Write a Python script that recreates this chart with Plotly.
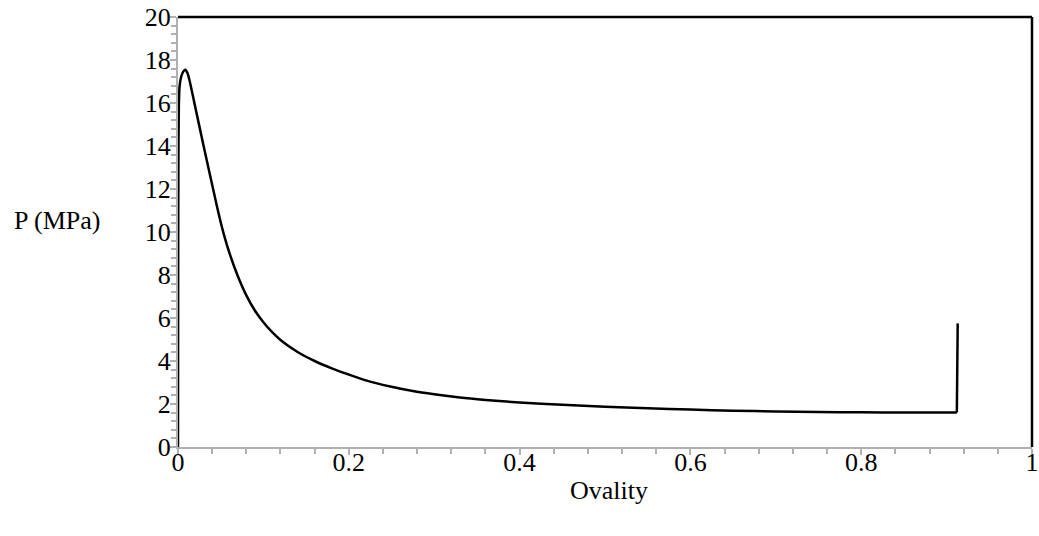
import plotly.graph_objects as go

# Data
ovality = [0.0, 0.0002, 0.0005, 0.0010, 0.0018, 0.0037, 0.0060, 0.0084, 0.0110, 0.0134,
           0.020, 0.030, 0.040, 0.045, 0.050, 0.055, 0.060, 0.070, 0.080, 0.090,
           0.100, 0.110, 0.120, 0.140, 0.160, 0.180, 0.200, 0.220, 0.250, 0.275,
           0.300, 0.330, 0.360, 0.400, 0.450, 0.500, 0.550, 0.600, 0.650, 0.700,
           0.750, 0.800, 0.850, 0.900, 0.912, 0.913]
pressure = [0.0, 8.0, 13.5, 15.9, 16.76, 17.22, 17.45, 17.55, 17.40, 17.07,
            15.85, 14.00, 12.20, 11.30, 10.45, 9.70, 9.05, 7.95, 7.05, 6.35,
            5.80, 5.35, 4.98, 4.42, 4.00, 3.66, 3.37, 3.10, 2.80, 2.60,
            2.45, 2.30, 2.19, 2.07, 1.96, 1.87, 1.80, 1.74, 1.69, 1.655,
            1.63, 1.615, 1.605, 1.60, 1.60, 5.75]

x_ticks = [0, 0.2, 0.4, 0.6, 0.8, 1]
x_tick_labels = ["0", "0.2", "0.4", "0.6", "0.8", "1"]
y_ticks = [0, 2, 4, 6, 8, 10, 12, 14, 16, 18, 20]

FONT = "Liberation Serif"
FS = 26
GRAY = "#b0b0b0"

fig = go.Figure()
# smooth curve up to the end of the plateau
fig.add_trace(go.Scatter(x=ovality[:-1], y=pressure[:-1], mode="lines",
                         line=dict(color="black", width=2.5, shape="spline", smoothing=0.6),
                         cliponaxis=False, showlegend=False))
# final vertical jump
fig.add_trace(go.Scatter(x=ovality[-2:], y=pressure[-2:], mode="lines",
                         line=dict(color="black", width=2.5),
                         cliponaxis=False, showlegend=False))

fig.update_layout(
    width=1039, height=536,
    margin=dict(l=178, r=7, t=17, b=89, autoexpand=False),
    paper_bgcolor="white", plot_bgcolor="white",
    font=dict(family=FONT, size=FS, color="black"),
    shapes=[
        dict(type="line", xref="paper", yref="paper", x0=0, x1=1, y0=1, y1=1,
             line=dict(color="black", width=2.5), layer="below"),
        dict(type="line", xref="paper", yref="paper", x0=1, x1=1, y0=0, y1=1,
             line=dict(color="black", width=2.5), layer="below"),
    ],
    annotations=[
        dict(text="P (MPa)", xref="paper", yref="paper", x=-0.142, y=0.526,
             xanchor="center", yanchor="middle",
             showarrow=False, font=dict(family=FONT, size=FS, color="black")),
        dict(text="Ovality", xref="paper", yref="paper", x=0.505, y=-0.10,
             xanchor="center", yanchor="middle",
             showarrow=False, font=dict(family=FONT, size=FS, color="black")),
    ],
)

fig.update_xaxes(range=[0, 1], tickmode="array", tickvals=x_ticks, ticktext=x_tick_labels,
                 showgrid=False, zeroline=False, automargin=False,
                 showline=True, linecolor=GRAY, linewidth=2,
                 ticks="outside", ticklen=6, tickwidth=1.5, tickcolor=GRAY,
                 ticklabelstandoff=-15, ticklabeloverflow="allow",
                 minor=dict(tickmode="linear", dtick=0.04, tick0=0, ticks="outside",
                            ticklen=5, tickwidth=1.5, tickcolor=GRAY),
                 layer="below traces",
                 tickfont=dict(family=FONT, size=FS, color="black"))
fig.update_yaxes(range=[0, 20], tickmode="array", tickvals=y_ticks,
                 showgrid=False, zeroline=False, automargin=False,
                 showline=True, linecolor=GRAY, linewidth=2,
                 ticks="outside", ticklen=6, tickwidth=1.5, tickcolor=GRAY,
                 ticklabelstandoff=-6, ticklabeloverflow="allow",
                 minor=dict(tickmode="linear", dtick=0.4, tick0=0, ticks="outside",
                            ticklen=5, tickwidth=1.5, tickcolor=GRAY),
                 layer="below traces",
                 tickfont=dict(family=FONT, size=FS, color="black"))

fig.write_html("out.html")
